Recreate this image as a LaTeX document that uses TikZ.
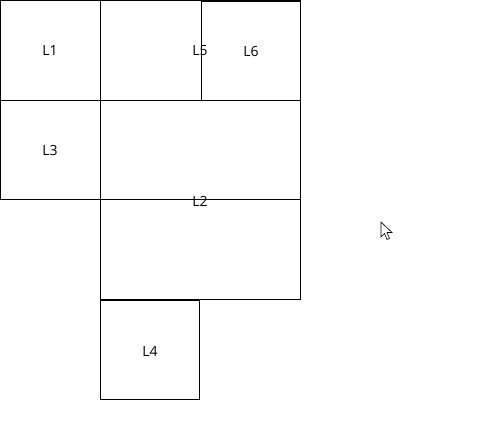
\documentclass[tikz,border=0pt]{standalone}
\usepackage{fontspec}
\setmainfont{Open Sans}
\begin{document}
\begin{tikzpicture}[x=0.75pt,y=-0.75pt,
  box/.style={draw=black,line width=0.7pt},
  lbl/.style={inner sep=0pt,font=\fontsize{10.5pt}{12pt}\selectfont,text=black},
  cursorshape/.style={draw=black,fill=white,line width=0.45pt,line join=miter}]
\useasboundingbox (0,0) rectangle (500,431);
\fill[white] (0,0) rectangle (500,431);
% boxes
\draw[box] (0.5,0.5) rectangle (100,100);
\draw[box] (100,0.5) rectangle (300,100);
\draw[box] (201,1) rectangle (300,100);
\draw[box] (0.5,100) rectangle (100,199);
\draw[box] (100,100) rectangle (300,299);
\draw[box] (100,199) -- (300,199);
\draw[box] (100,300) rectangle (199,399);
% labels
\node[lbl] (L1) at (50,51) {L1};
\node[lbl] (L5) at (200,51) {L5};
\node[lbl] (L6) at (251,52) {L6};
\node[lbl] (L3) at (50,151) {L3};
\node[lbl] (L2) at (200,201) {L2};
\node[lbl] (L4) at (150,351) {L4};
% cursor
\draw[cursorshape] (381,222) -- (381,237) -- (384.5,233.5) -- (387,239.5) -- (389.5,238.5) -- (387,232.5) -- (392,232.5) -- cycle;
\end{tikzpicture}
\end{document}
